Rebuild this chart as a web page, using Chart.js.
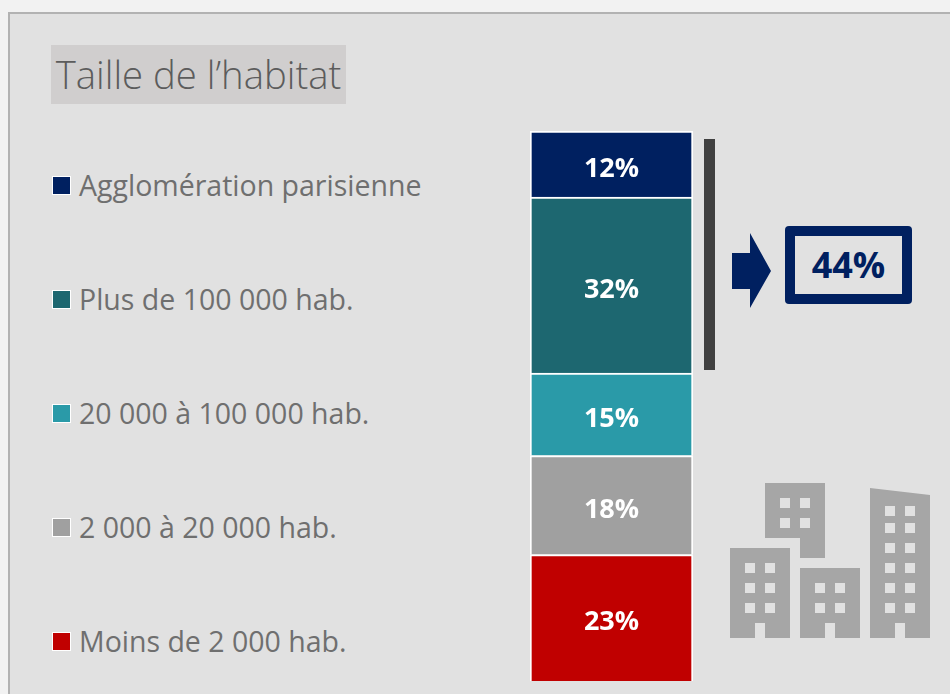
<!DOCTYPE html>
<html lang="fr">
<head>
<meta charset="utf-8">
<title>Taille de l'habitat</title>
<script src="https://cdn.jsdelivr.net/npm/chart.js@4"></script>
<style>
  html, body { margin: 0; padding: 0; background: #f2f2f2; overflow: hidden; }
  #page { position: relative; width: 950px; height: 694px; overflow: hidden; font-family: "Open Sans", sans-serif; }
  #panel { position: absolute; left: 8px; top: 12px; width: 960px; height: 700px; background: #e1e1e1; border: 2px solid #b2b2b2; box-sizing: border-box; }
  #title { position: absolute; left: 51px; top: 45px; width: 295px; height: 59px; line-height: 59px; background: #d0cece; color: #5c5c5c; font-size: 38.3px; font-weight: 300; text-align: center; white-space: nowrap; }
  .item { position: absolute; left: 79px; color: #6f6f6f; font-size: 28.5px; line-height: 36px; white-space: nowrap; }
  .swatch { position: absolute; left: 52px; width: 19px; height: 19px; border: 1px solid #fff; box-sizing: border-box; }
  #shapes { position: absolute; left: 0; top: 0; }
  #chart { position: absolute; left: 0; top: 0; }
</style>
</head>
<body>
<div id="page">
  <div id="panel"></div>
  <div id="title">Taille de l’habitat</div>
  <div id="legend"></div>
  <svg id="shapes" width="950" height="694">
    <rect x="704" y="139" width="11" height="231" fill="#404040"/>
    <path d="M732 253H750V233L771 271L750 308V289H732Z" fill="#002060"/>
    <rect x="785" y="226" width="127" height="78" rx="4" fill="#002060"/>
    <rect x="795" y="236" width="107" height="58" fill="#e1e1e1"/>
    <text x="848.5" y="278" text-anchor="middle" fill="#002060" font-family="Open Sans" font-weight="700" font-size="36">44%</text>
    <g fill="#a6a6a6">
      <path d="M765 483H825V558H800V538H765Z"/>
      <path d="M730 548H790V638H730Z"/>
      <path d="M800 568H860V638H800Z"/>
      <path d="M870 488L930 495V638H870Z"/>
    </g>
    <g fill="#e1e1e1" id="windows"></g>
  </svg>
  <canvas id="chart" width="950" height="694"></canvas>
</div>
<script>
const categories = ['Moins de 2 000 hab.', '2 000 à 20 000 hab.', '20 000 à 100 000 hab.', 'Plus de 100 000 hab.', 'Agglomération parisienne'];
const shares = [23, 18, 15, 32, 12];
const colours = ['#c00000', '#a0a0a0', '#2a9aa8', '#1d6770', '#002060'];

// legend runs top to bottom, bars stack bottom to top
const legend = document.getElementById('legend');
categories.forEach((name, i) => {
  const y = 641 - i * 114;
  const swatch = document.createElement('div');
  swatch.className = 'swatch';
  swatch.style.top = (y - 9) + 'px';
  swatch.style.background = colours[i];
  const item = document.createElement('div');
  item.className = 'item';
  item.style.top = (y - 18) + 'px';
  item.textContent = name;
  legend.append(swatch, item);
});

// building icon windows and doors
const windows = document.getElementById('windows');
const addRect = (x, y, w, h) => {
  const r = document.createElementNS('http://www.w3.org/2000/svg', 'rect');
  r.setAttribute('x', x);
  r.setAttribute('y', y);
  r.setAttribute('width', w);
  r.setAttribute('height', h);
  windows.appendChild(r);
};
const addWindows = (cols, rows) => cols.forEach(x => rows.forEach(y => addRect(x, y, 10, 10)));
addWindows([780, 800], [498, 518]);
addWindows([745, 765], [563, 583, 603]);
addWindows([815, 835], [583, 603]);
addWindows([885, 905], [506, 523, 543, 563, 583, 603]);
[755, 825, 895].forEach(x => addRect(x, 623, 10, 15));

const shareLabels = {
  id: 'shareLabels',
  afterDatasetsDraw(chart) {
    const ctx = chart.ctx;
    ctx.save();
    ctx.fillStyle = '#fff';
    ctx.font = '700 27px "Open Sans"';
    ctx.textAlign = 'center';
    ctx.textBaseline = 'middle';
    chart.data.datasets.forEach((ds, i) => {
      const bar = chart.getDatasetMeta(i).data[0];
      const p = bar.getCenterPoint();
      ctx.fillText(ds.data[0] + '%', p.x, p.y + 5);
    });
    ctx.restore();
  }
};

new Chart(document.getElementById('chart'), {
  type: 'bar',
  data: {
    labels: ['Habitat'],
    datasets: categories.map((name, i) => ({
      label: name,
      data: [shares[i]],
      backgroundColor: colours[i],
      borderColor: '#fff',
      borderWidth: 2
    }))
  },
  options: {
    responsive: false,
    animation: false,
    layout: { padding: { left: 530, right: 257, top: 131, bottom: 13 } },
    plugins: { legend: { display: false }, tooltip: { enabled: false } },
    scales: {
      x: { display: false, stacked: true },
      y: { display: false, stacked: true, min: 0, max: 100 }
    },
    datasets: { bar: { categoryPercentage: 1, barPercentage: 1 } }
  },
  plugins: [shareLabels]
});
</script>
</body>
</html>
